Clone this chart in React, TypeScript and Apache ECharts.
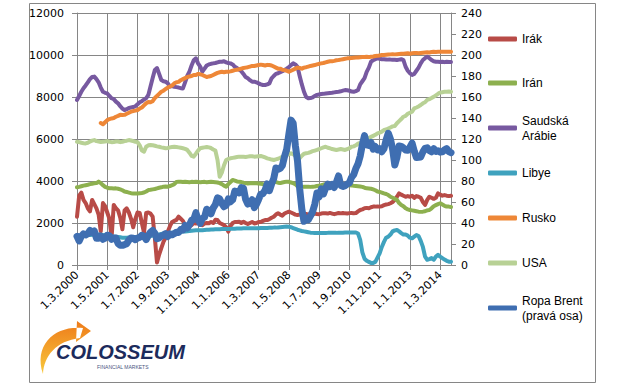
import React, { useEffect, useRef } from "react";
import * as echarts from "echarts";

// ---- categories: monthly from 1.3.2000 to 1.8.2014 ----
const START_YEAR = 2000;
const START_MONTH = 3;
const MONTH_COUNT = 174;
const categories: string[] = [];
for (let k = 0; k < MONTH_COUNT; k++) {
  const m = ((START_MONTH - 1 + k) % 12) + 1;
  const y = START_YEAR + Math.floor((START_MONTH - 1 + k) / 12);
  categories.push(`1.${m}.${y}`);
}

const leftTicks = [0, 2000, 4000, 6000, 8000, 10000, 12000];
const rightTicks = [0, 20, 40, 60, 80, 100, 120, 140, 160, 180, 200, 220, 240];

// thousand barrels / day
const irak = [
  2300, 3300, 3450, 3100, 2950, 2700, 2550, 3100, 2900, 2700,
  2400, 1600, 2950, 2800, 2500, 2200, 1300, 2860, 2700, 2600, 2250, 1700,
  2600, 2700, 2500, 2200, 1800, 2200, 2500, 2480, 2000, 1550, 2480, 2500,
  2450, 2300, 1300, 120, 500, 800, 1100, 1300, 1600, 1850, 2050, 2100,
  2150, 2300, 2200, 2100, 1900, 1880, 1850, 1900, 2000, 1980, 2000, 1950,
  1900, 1980, 2000, 1990, 2050, 2000, 2150, 2140, 2000, 1950, 1900, 1800,
  1590, 1850, 2000, 2050, 2050, 2060, 2000, 2060, 2000, 1950, 2000, 2050,
  1980, 2000, 2050, 2050, 2100, 2140, 2140, 2180, 2250, 2300, 2400, 2460,
  2400, 2350, 2450, 2500, 2540, 2500, 2450, 2400, 2380, 2400, 2420, 2430,
  2430, 2400, 2420, 2400, 2450, 2430, 2420, 2450, 2470, 2460, 2450, 2480,
  2450, 2420, 2450, 2480, 2460, 2480, 2460, 2450, 2470, 2480, 2460, 2470,
  2550, 2620, 2650, 2700, 2720, 2700, 2750, 2780, 2780, 2790, 2780, 2800,
  2850, 2880, 2900, 2940, 3000, 3100, 3250, 3410, 3350, 3300, 3250, 3280,
  3250, 3300, 3200, 3280, 3250, 3200, 3000, 2860, 3100, 3250, 3200, 3150,
  3200, 3410, 3350, 3300, 3330, 3300, 3280, 3300,
];

const iran = [
  3700, 3720, 3750, 3780, 3800, 3820, 3850, 3870, 3890, 3900,
  3970, 3900, 3800, 3720, 3680, 3650, 3650, 3640, 3650, 3630, 3600, 3560,
  3500, 3480, 3450, 3420, 3410, 3400, 3410, 3420, 3430, 3450, 3500, 3570,
  3580, 3600, 3620, 3650, 3680, 3700, 3730, 3740, 3730, 3760, 3800, 3850,
  3950, 3970, 3960, 3950, 3960, 3950, 3940, 3960, 3950, 3960, 3950, 3940,
  3950, 3960, 3940, 3950, 3960, 3950, 3940, 3930, 3900, 3850, 3780, 3730,
  3850, 3950, 4050, 4020, 3980, 3960, 3950, 3920, 3900, 3880, 3890, 3900,
  3890, 3890, 3880, 3870, 3850, 3820, 3810, 3850, 3900, 3970, 3950, 3920,
  3900, 3930, 3950, 3970, 3960, 3930, 3900, 3850, 3750, 3730, 3720, 3730,
  3730, 3730, 3720, 3730, 3740, 3760, 3780, 3800, 3830, 3850, 3870, 3880,
  3880, 3870, 3860, 3850, 3840, 3830, 3820, 3810, 3800, 3790, 3770, 3760,
  3750, 3740, 3720, 3680, 3650, 3640, 3630, 3600, 3560, 3500, 3480, 3450,
  3410, 3380, 3330, 3250, 3200, 3150, 3100, 2950, 2860, 2800, 2700, 2650,
  2620, 2600, 2580, 2560, 2540, 2530, 2540, 2560, 2600, 2620, 2700, 2800,
  2850, 2900, 2940, 2880, 2820, 2780, 2780, 2760,
];

const saudi = [
  7860, 8050, 8250, 8420, 8550, 8700, 8850, 8950, 8970, 8850,
  8700, 8450, 8250, 8200, 8170, 8050, 7940, 7900, 7780, 7700, 7560, 7450,
  7380, 7420, 7480, 7500, 7520, 7560, 7650, 7750, 7800, 7880, 7940, 8100,
  8500, 8900, 9290, 9380, 9100, 8810, 8750, 8730, 8650, 8500, 8520, 8490,
  8470, 8450, 8420, 8410, 8700, 9000, 9210, 9500, 9750, 9840, 9600, 9450,
  9210, 9350, 9500, 9550, 9580, 9600, 9620, 9650, 9680, 9680, 9700, 9650,
  9620, 9600, 9550, 9440, 9380, 9300, 9230, 9100, 8950, 8890, 8800, 8730,
  8730, 8700, 8650, 8600, 8570, 8570, 8600, 8650, 8890, 9000, 9100, 9130,
  9180, 9230, 9290, 9350, 9420, 9520, 9600, 9550, 9440, 9000, 8600, 8250,
  8000, 7940, 7950, 7980, 8050, 8100, 8120, 8140, 8150, 8170, 8180, 8190,
  8200, 8220, 8240, 8250, 8270, 8300, 8330, 8320, 8300, 8260, 8250, 8280,
  8330, 8600, 8750, 8900, 9200, 9400, 9680, 9750, 9800, 9840, 9820, 9800,
  9800, 9790, 9780, 9780, 9770, 9770, 9760, 9780, 9800, 9760, 9440, 9250,
  9130, 9050, 9100, 9250, 9400, 9600, 9760, 9850, 9920, 9850, 9760, 9700,
  9680, 9680, 9670, 9680, 9660, 9680, 9670, 9670,
];

const libye = [
  1400, 1400, 1410, 1420, 1420, 1430, 1430, 1440, 1440, 1450,
  1450, 1440, 1430, 1420, 1400, 1380, 1360, 1350, 1340, 1330, 1320, 1300,
  1300, 1300, 1310, 1320, 1320, 1330, 1330, 1340, 1350, 1350, 1360, 1370,
  1380, 1400, 1420, 1440, 1460, 1480, 1500, 1510, 1520, 1530, 1540, 1550,
  1560, 1570, 1580, 1590, 1600, 1610, 1620, 1630, 1640, 1650, 1650, 1660,
  1660, 1670, 1680, 1680, 1690, 1690, 1700, 1700, 1700, 1710, 1710, 1720,
  1720, 1720, 1730, 1730, 1740, 1740, 1740, 1750, 1750, 1750, 1750, 1750,
  1750, 1750, 1750, 1760, 1760, 1760, 1760, 1770, 1770, 1780, 1780, 1790,
  1800, 1810, 1820, 1830, 1820, 1800, 1760, 1720, 1680, 1650, 1620, 1600,
  1580, 1560, 1540, 1530, 1520, 1520, 1520, 1520, 1520, 1520, 1530, 1530,
  1530, 1530, 1530, 1540, 1540, 1540, 1550, 1550, 1550, 1550, 1550, 1550,
  1500, 1200, 600, 300, 200, 150, 100, 100, 150, 350, 550, 860,
  1100, 1300, 1350, 1450, 1600, 1650, 1670, 1600, 1520, 1450, 1450, 1400,
  1300, 1270, 1350, 1430, 1380, 1150, 860, 400, 250, 280, 330, 250,
  400, 480, 400, 330, 260, 200, 160, 150,
];

const rusko = [
  null, null, null, null, null, null, null, null, null, null,
  null, 6760, 6700, 6800, 6900, 6950, 6980, 7000, 7060, 7100, 7150, 7140,
  7150, 7200, 7250, 7300, 7330, 7350, 7380, 7450, 7500, 7600, 7700, 7760,
  7750, 7800, 7950, 8050, 8150, 8250, 8300, 8380, 8450, 8500, 8550, 8650,
  8700, 8720, 8800, 8850, 8900, 8950, 8980, 9000, 9050, 9050, 9100, 9080,
  9050, 9000, 8950, 8980, 9000, 9050, 9100, 9150, 9180, 9200, 9180, 9200,
  9200, 9220, 9250, 9280, 9300, 9320, 9350, 9380, 9400, 9420, 9450, 9480,
  9480, 9500, 9520, 9540, 9520, 9500, 9530, 9520, 9500, 9450, 9400, 9350,
  9350, 9300, 9280, 9250, 9200, 9250, 9300, 9350, 9400, 9380, 9350, 9400,
  9420, 9450, 9480, 9500, 9520, 9550, 9580, 9600, 9620, 9650, 9680, 9700,
  9700, 9720, 9750, 9760, 9780, 9800, 9820, 9840, 9850, 9860, 9870, 9880,
  9880, 9890, 9900, 9910, 9920, 9900, 9920, 9930, 9950, 9960, 9980, 10000,
  10000, 10010, 10020, 10030, 10040, 10030, 10040, 10050, 10060, 10060, 10070, 10080,
  10060, 10080, 10090, 10100, 10080, 10100, 10110, 10120, 10130, 10120, 10140, 10150,
  10140, 10150, 10160, 10150, 10160, 10150, 10160, 10150,
];

const usa = [
  5870, 5850, 5820, 5800, 5790, 5820, 5880, 5920, 5950, 5900,
  5880, 5860, 5870, 5880, 5900, 5870, 5850, 5860, 5880, 5880, 5850, 5870,
  5900, 5920, 5950, 5930, 5900, 5870, 5850, 5700, 5450, 5400, 5630, 5700,
  5710, 5700, 5680, 5650, 5630, 5600, 5580, 5560, 5570, 5600, 5620, 5630,
  5620, 5600, 5580, 5560, 5530, 5480, 5350, 5200, 5160, 5300, 5450, 5560,
  5580, 5600, 5620, 5600, 5570, 5500, 5450, 5000, 4200, 4400, 4750, 5000,
  5050, 5080, 5100, 5120, 5140, 5160, 5160, 5150, 5140, 5160, 5180, 5180,
  5160, 5170, 5180, 5190, 5160, 5120, 5080, 5050, 5020, 5000, 5030, 5060,
  5100, 5150, 5200, 5240, 5280, 5320, 5280, 5200, 5150, 5080, 5200, 5300,
  5320, 5340, 5380, 5420, 5450, 5480, 5520, 5560, 5600, 5630, 5580, 5560,
  5520, 5500, 5480, 5500, 5520, 5500, 5480, 5520, 5560, 5630, 5650, 5700,
  5780, 5820, 5870, 5950, 6000, 6050, 6100, 6150, 6200, 6270, 6300, 6350,
  6430, 6450, 6500, 6550, 6600, 6620, 6750, 6850, 6950, 7060, 7100, 7200,
  7250, 7300, 7460, 7500, 7550, 7620, 7700, 7750, 7860, 7900, 7950, 8010,
  8080, 8150, 8210, 8230, 8250, 8250, 8260, 8250,
];

// USD / barrel (right axis)
const brent = [
  27.3, 22.9, 27.3, 29.6, 28.6, 29.8, 32.9, 31.1, 32.5, 25.5,
  25.5, 27.5, 24.5, 25.6, 28.4, 27.7, 24.5, 25.7, 25.6, 20.5, 18.8, 18.7,
  19.4, 20.3, 23.7, 25.7, 25.4, 24.1, 25.7, 26.3, 28.4, 27.5, 24.3, 28.1,
  31.2, 32.8, 30.3, 25.0, 25.8, 27.6, 28.4, 29.9, 27.1, 29.6, 28.8, 29.8,
  31.3, 30.9, 33.8, 33.4, 37.6, 35.2, 38.2, 42.7, 43.2, 49.8, 43.1, 39.6,
  44.5, 45.5, 53.1, 51.9, 48.7, 54.3, 57.5, 64.0, 62.9, 58.5, 55.5, 56.9,
  63.0, 60.2, 62.1, 70.3, 69.8, 68.7, 73.7, 73.2, 62.5, 58.0, 58.8, 62.2,
  54.6, 57.8, 62.4, 67.5, 67.9, 71.3, 77.2, 70.8, 77.1, 82.3, 92.4, 91.0,
  92.0, 94.8, 103.3, 110.2, 124.6, 138.0, 135.0, 113.9, 99.1, 72.8, 53.2, 41.6,
  44.9, 43.1, 46.8, 50.9, 57.9, 68.6, 64.9, 72.5, 67.7, 73.2, 77.0, 74.7,
  76.7, 73.8, 78.8, 84.8, 75.9, 74.8, 75.6, 77.1, 78.2, 83.5, 86.1, 92.0,
  96.5, 103.7, 114.6, 123.3, 114.5, 113.9, 116.7, 110.4, 112.8, 109.6, 110.8, 107.9,
  110.7, 119.3, 125.5, 119.8, 110.3, 95.2, 102.6, 113.4, 113.0, 111.5, 109.5, 109.2,
  112.3, 116.1, 108.5, 102.3, 102.6, 102.9, 107.7, 111.0, 111.6, 109.1, 107.8, 110.8,
  108.1, 108.9, 107.5, 107.8, 109.7, 110.8, 108.0, 107.0,
];

const seriesNames = ["Irák", "Irán", "Saudská Arábie", "Libye", "Rusko", "USA", "Ropa Brent (pravá osa)"];
const legendLabels = ["Irák", "Irán", "Saudská\nArábie", "Libye", "Rusko", "USA", "Ropa Brent\n(pravá osa)"];
const seriesData = [irak, iran, saudi, libye, rusko, usa, brent];
const seriesColors = ["#B84B47", "#8DB04F", "#7759A0", "#3FA2BE", "#EE8737", "#B8D195", "#3F6EB1"];

const AX = "#868686";
const AXIS_FONT = "DejaVu Sans";
const LEGEND_FONT = "Liberation Sans";

const logoPath =
  "M 83 328 C 56 325 33 344 43 374 C 44 356 56 341 80 338 Z M 77 321 L 91 331 L 76 342 Z";

export default function App() {
  const ref = useRef<HTMLDivElement>(null);

  useEffect(() => {
    if (!ref.current) return;
    try {
      echarts.graphic.registerShape("logo", echarts.graphic.extendPath(logoPath, {}));
    } catch (e) {}
    const chart = echarts.init(ref.current, undefined, { renderer: "svg" });

    const legendCenters = [39, 83, 128, 173, 218, 263, 308];
    const legends = seriesNames.map((name, k) => {
      const twoLine = legendLabels[k].indexOf("\n") >= 0;
      return {
        data: [name],
        left: 488,
        top: legendCenters[k] - (twoLine ? 22.5 : 7.5),
        orient: "vertical",
        padding: 0,
        itemWidth: 29,
        itemHeight: 5,
        icon: "roundRect",
        selectedMode: false,
        itemStyle: { borderWidth: 0 },
        formatter: () => legendLabels[k],
        textStyle: {
          fontFamily: LEGEND_FONT,
          fontSize: 12,
          color: "#000",
          lineHeight: 15,
          padding: twoLine ? [15, 0, 0, 0] : 0,
        },
      };
    });

    const plainNumber = (v: number) => String(v);

    const option: any = {
      animation: false,
      backgroundColor: "#ffffff",
      grid: { left: 77, right: 169, top: 13, bottom: 121 },
      legend: legends,
      xAxis: {
        type: "category",
        data: categories,
        boundaryGap: false,
        axisLine: { show: true, lineStyle: { color: AX, width: 1 } },
        axisTick: { show: true, interval: 13, length: 5, lineStyle: { color: AX } },
        axisLabel: {
          interval: 13,
          rotate: 45,
          margin: 8,
          color: "#000",
          fontFamily: AXIS_FONT,
          fontSize: 11,
        },
        splitLine: { show: true, interval: 13, lineStyle: { color: AX, width: 1 } },
      },
      yAxis: [
        {
          type: "value",
          min: leftTicks[0],
          max: leftTicks[leftTicks.length - 1],
          interval: leftTicks[1] - leftTicks[0],
          axisLine: { show: true, lineStyle: { color: AX } },
          axisTick: { show: true, length: 5, lineStyle: { color: AX } },
          axisLabel: { margin: 13, color: "#000", fontFamily: AXIS_FONT, fontSize: 11, formatter: plainNumber },
          splitLine: { show: true, lineStyle: { color: AX, width: 1 } },
        },
        {
          type: "value",
          position: "right",
          min: rightTicks[0],
          max: rightTicks[rightTicks.length - 1],
          interval: rightTicks[1] - rightTicks[0],
          axisLine: { show: true, lineStyle: { color: AX } },
          axisTick: { show: true, length: 5, lineStyle: { color: AX } },
          axisLabel: { margin: 10, color: "#000", fontFamily: AXIS_FONT, fontSize: 11, formatter: plainNumber },
          splitLine: { show: false },
        },
      ],
      series: seriesNames.map((name, k) => ({
        name,
        type: "line",
        data: seriesData[k],
        yAxisIndex: k === 6 ? 1 : 0,
        symbol: "none",
        showSymbol: false,
        connectNulls: false,
        color: seriesColors[k],
        itemStyle: { color: seriesColors[k] },
        lineStyle: {
          color: seriesColors[k],
          width: k === 6 ? 7 : 4,
          cap: "round",
          join: "round",
        },
        emphasis: { disabled: true },
        z: 2 + k,
      })),
      graphic: [
        {
          type: "rect",
          silent: true,
          z: -10,
          shape: { x: 29.5, y: 3.5, width: 566, height: 379 },
          style: { fill: "none", stroke: AX, lineWidth: 1 },
        },
        {
          type: "logo",
          silent: true,
          x: 0,
          y: 0,
          style: {
            fill: new echarts.graphic.LinearGradient(0, 0, 0, 1, [
              { offset: 0, color: "#EE7B1A" },
              { offset: 1, color: "#F8C83C" },
            ]),
          },
        },
        {
          type: "text",
          silent: true,
          x: 56,
          y: 352,
          style: {
            text: "COLOSSEUM",
            fontFamily: "Liberation Sans Narrow, Liberation Sans",
            fontWeight: "bold",
            fontStyle: "italic",
            fontSize: 20,
            fill: "#1C2B5C",
            verticalAlign: "middle",
            align: "left",
          },
        },
        {
          type: "text",
          silent: true,
          x: 97,
          y: 367,
          style: {
            text: "FINANCIAL MARKETS",
            fontFamily: "Liberation Sans",
            fontSize: 5,
            fill: "#4A5580",
            verticalAlign: "middle",
            align: "left",
          },
        },
      ],
    };

    chart.setOption(option);
    return () => chart.dispose();
  }, []);

  return (
    <div
      ref={ref}
      style={{ position: "fixed", left: 0, top: 0, width: 620, height: 386, background: "#fff" }}
    />
  );
}
